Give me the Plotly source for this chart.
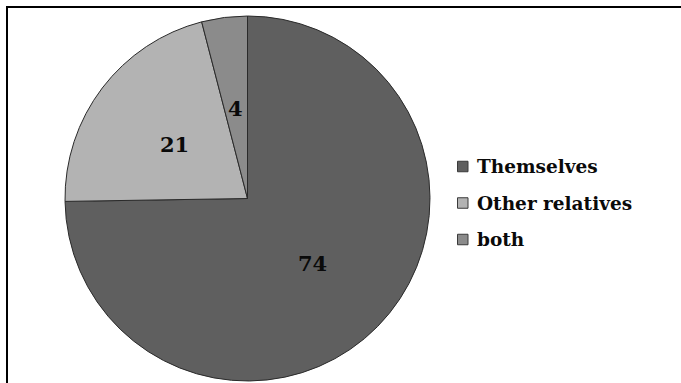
import math
import plotly.graph_objects as go

# ---- data ----
labels = ["Themselves", "Other relatives", "both"]
values = [74, 21, 4]
colors = ["#5f5f5f", "#b3b3b3", "#8b8b8b"]

# ---- layout constants (pixels) ----
W, H = 681, 383
CX, CY, R = 247.5, 198.5, 182.5   # pie centre / radius in px (from top-left)
LABEL_FRAC = 0.5
FONT = "DejaVu Serif"

def px_x(x):
    return x / W

def px_y(y):
    return 1 - y / H

fig = go.Figure()
fig.add_trace(go.Pie(
    labels=labels,
    values=values,
    sort=False,
    direction="clockwise",
    rotation=0,
    marker=dict(colors=colors, line=dict(color="#2a2a2a", width=1)),
    textinfo="none",
    hoverinfo="label+value",
    showlegend=False,
    domain=dict(x=[px_x(CX - R), px_x(CX + R)], y=[px_y(CY + R), px_y(CY - R)]),
))

annotations = []
total = sum(values)
cum = 0
for lab, v in zip(labels, values):
    mid = (cum + v / 2) / total * 2 * math.pi
    cum += v
    x = CX + LABEL_FRAC * R * math.sin(mid)
    y = CY - LABEL_FRAC * R * math.cos(mid) + 1
    annotations.append(dict(
        x=px_x(x), y=px_y(y), xref="paper", yref="paper",
        text=f"<b>{v}</b>", showarrow=False,
        font=dict(family=FONT, size=21, color="#0a0a0a"),
        xanchor="center", yanchor="middle",
    ))

shapes = []
# manual legend
LEG_X, LEG_Y0, LEG_DY, SQ = 457.5, 166.5, 36.5, 10.5
for i, (lab, col) in enumerate(zip(labels, colors)):
    yc = LEG_Y0 + i * LEG_DY
    shapes.append(dict(
        type="rect", xref="paper", yref="paper",
        x0=px_x(LEG_X), x1=px_x(LEG_X + SQ),
        y0=px_y(yc + SQ / 2), y1=px_y(yc - SQ / 2),
        fillcolor=col, line=dict(color="#3a3a3a", width=1),
    ))
    annotations.append(dict(
        x=px_x(LEG_X + SQ + 7), y=px_y(yc), xref="paper", yref="paper",
        text=f"<b>{lab}</b>", showarrow=False,
        font=dict(family=FONT, size=18.5, color="#0a0a0a"),
        xanchor="left", yanchor="middle",
    ))

# frame (top and left edges visible)
shapes.append(dict(type="line", xref="paper", yref="paper",
                   x0=px_x(6), x1=1.01, y0=px_y(7), y1=px_y(7),
                   line=dict(color="black", width=2)))
shapes.append(dict(type="line", xref="paper", yref="paper",
                   x0=px_x(7), x1=px_x(7), y0=px_y(6), y1=-0.01,
                   line=dict(color="black", width=2)))

fig.update_layout(
    width=W, height=H,
    margin=dict(l=0, r=0, t=0, b=0),
    paper_bgcolor="white", plot_bgcolor="white",
    annotations=annotations,
    shapes=shapes,
    showlegend=False,
)

fig.write_html("out.html")
